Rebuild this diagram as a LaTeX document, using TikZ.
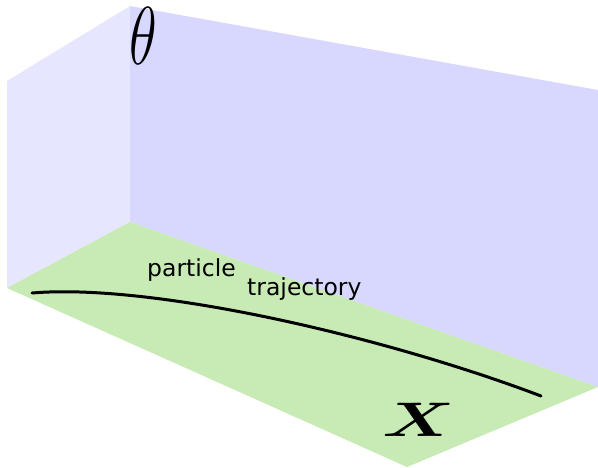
\documentclass[tikz,border=0pt]{standalone}
\usepackage{amsmath}
\usepackage{fontspec}
\setsansfont{DejaVu Sans}
\usetikzlibrary{positioning}
\definecolor{WallSide}{HTML}{E6E6FF}
\definecolor{WallBack}{HTML}{D8D8FF}
\definecolor{FloorGreen}{HTML}{C8EAB4}

\begin{document}
\begin{tikzpicture}[x=1pt, y=-1pt,
  caption/.style={font=\sffamily\fontsize{23.5}{24}\selectfont, inner sep=0pt, anchor=base west},
  axislabel/.style={inner sep=0pt, font=\Huge},
  trajline/.style={line width=3pt, line cap=round, draw=black}]
\useasboundingbox (0,0) rectangle (598,468);
% walls and floor
\fill[WallSide] (7,81) -- (130,6) -- (130,222) -- (7,288) -- cycle;
\fill[WallBack] (130,6) -- (598,90) -- (598,387) -- (130,222) -- cycle;
\fill[FloorGreen] (7,288) -- (130,222) -- (598,387) -- (407,467) -- cycle;
% trajectory
\coordinate (start) at (32,293);
\coordinate (stop) at (541,396);
\draw[trajline] (start) .. controls (150,283) and (380,335) .. (stop);
\node[caption] (particle) at (147,277) {particle};
\node[caption] (trajectory) at (247,295) {trajectory};
% axes
\node[axislabel, xscale=2.3, yscale=3.3] (theta) at (143,36) {$\theta$};
\node[axislabel, xscale=2.85, yscale=1.95] (xlab) at (419,420) {$\boldsymbol{X}$};
\end{tikzpicture}
\end{document}
